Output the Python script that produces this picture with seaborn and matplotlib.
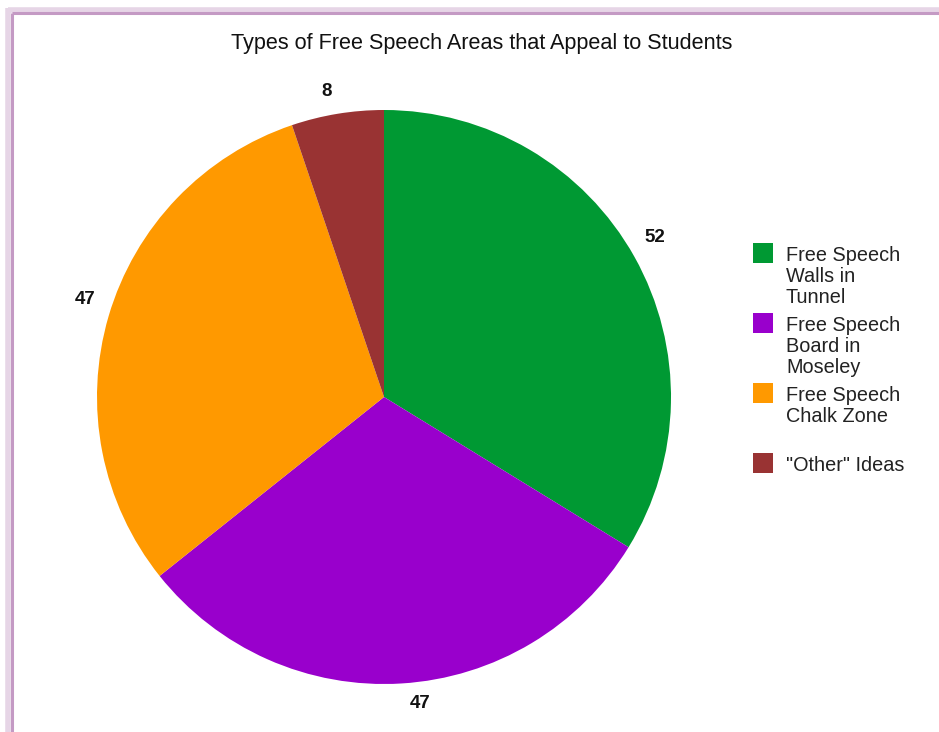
import matplotlib
matplotlib.use("Agg")
import matplotlib.pyplot as plt
from matplotlib.patches import Rectangle
from matplotlib.lines import Line2D
import seaborn as sns

categories = ["Free Speech\nWalls in\nTunnel", "Free Speech\nBoard in\nMoseley",
              "Free Speech\nChalk Zone", "\"Other\" Ideas"]
values = [52, 47, 47, 8]
colors = ["#009933", "#9900CC", "#FF9900", "#993333"]
title = "Types of Free Speech Areas that Appeal to Students"

sns.set_theme(style="white")
plt.rcParams["font.family"] = ["Liberation Sans", "DejaVu Sans"]

W, H = 939, 732
fig = plt.figure(figsize=(W / 100, H / 100), dpi=100)
fig.patch.set_facecolor("white")
ax = fig.add_axes([0, 0, 1, 1])

total = sum(values)
cx, cy, r = 384, H - 397, 287
wedges, texts, autotexts = ax.pie(
    values, colors=colors, startangle=90, counterclock=False,
    center=(cx, cy), radius=r,
    autopct=lambda p: f"{round(p * total / 100)}", pctdistance=1.095,
    wedgeprops=dict(linewidth=0),
    textprops=dict(fontsize=13.5, fontweight="bold", color="#111111"))
# small pixel nudges of value labels (layout only)
nudges = [(-3, 6), (17, 7), (3, 9), (-6, -5)]
for t, (dx, dy) in zip(autotexts, nudges):
    x, y = t.get_position()
    t.set_position((x + dx, y + dy))

ax.set_xlim(0, W)
ax.set_ylim(0, H)
ax.set_aspect("auto")
ax.axis("off")

ax.text(482, H - 44, title, ha="center", va="center", fontsize=15.6, color="#111111")

# legend drawn manually
for i, (lab, col) in enumerate(zip(categories, colors)):
    top = 243 + 70 * i
    ax.add_patch(Rectangle((753, H - top - 20), 20, 20, facecolor=col, edgecolor="none"))
    ax.text(786, H - top - 3, lab, ha="left", va="top", fontsize=14.3,
            color="#222222", linespacing=1.12)

# border
ax.add_line(Line2D([8, 8], [0, H - 8], color="#e6d5e6", lw=4, solid_capstyle="butt"))
ax.add_line(Line2D([8, W], [H - 10, H - 10], color="#e6d5e6", lw=4, solid_capstyle="butt"))
ax.add_line(Line2D([12, 12], [0, H - 13], color="#c49ac4", lw=2.2, solid_capstyle="butt"))
ax.add_line(Line2D([12, W], [H - 13, H - 13], color="#c49ac4", lw=2.2, solid_capstyle="butt"))

fig.savefig("out.png", dpi=100, facecolor="white")
